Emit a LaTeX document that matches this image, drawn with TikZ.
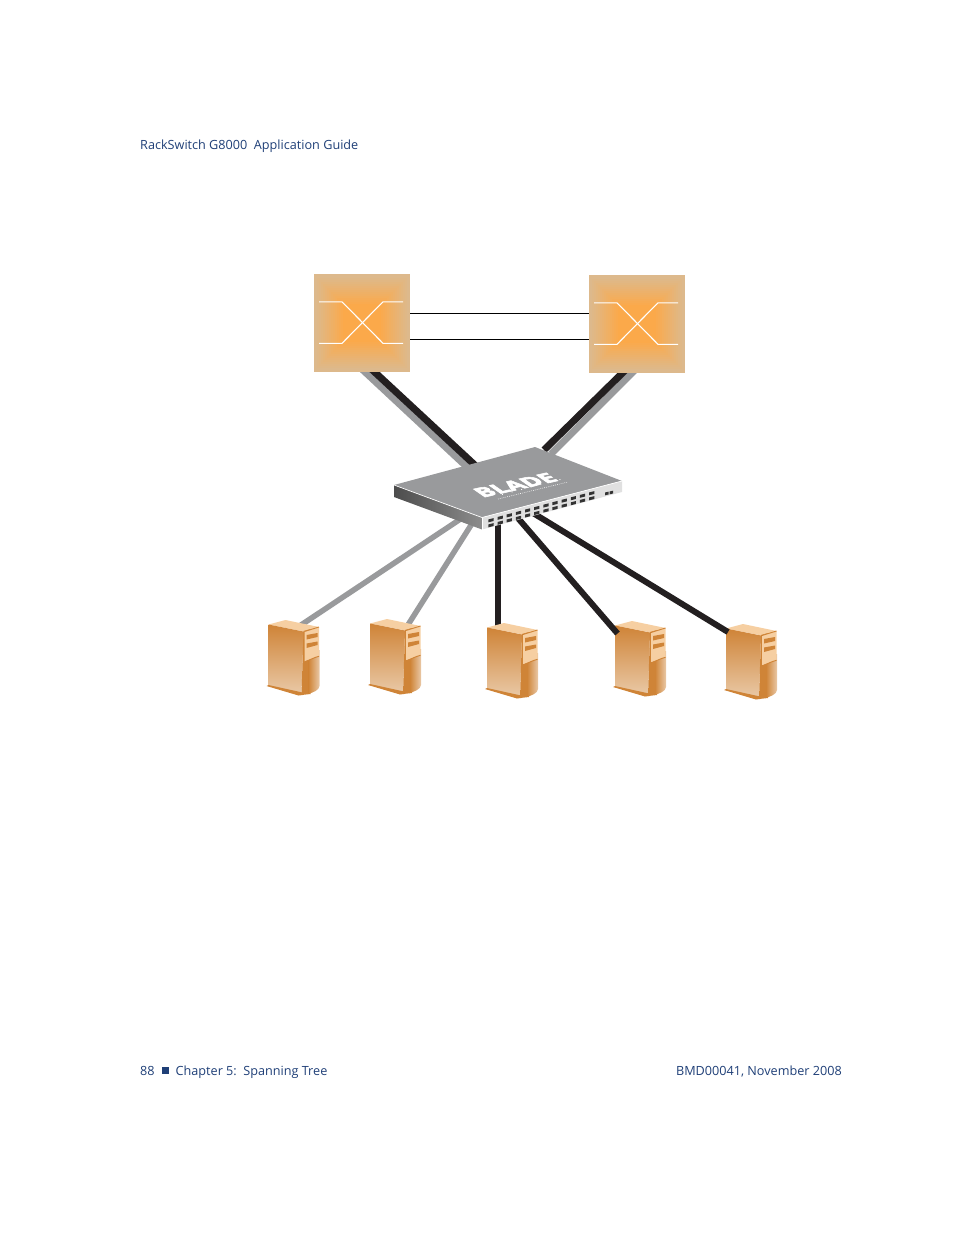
\documentclass[tikz,border=0pt]{standalone}
\usepackage{fontspec}
\setmainfont{Open Sans}
\newfontfamily\logofont[FakeBold=4]{Open Sans}
\usetikzlibrary{calc}
\definecolor{hdr}{HTML}{1F3F77}
\definecolor{swout}{HTML}{DDB98C}
\definecolor{swin}{HTML}{FBA94A}
\definecolor{graylink}{HTML}{999A9C}
\definecolor{blacklink}{HTML}{231F20}
\definecolor{srvdark}{HTML}{CF8437}
\definecolor{srvmid}{HTML}{CD8F62}
\definecolor{srvlight}{HTML}{E9C8A6}
\definecolor{srvpanel}{HTML}{F6CFA2}
\pgfdeclarelayer{bg}
\pgfsetlayers{bg,main}
\tikzset{
  x=1pt,y=-1pt,
  pagetext/.style={text=hdr,font=\fontsize{12.65}{15}\selectfont,inner sep=0pt,anchor=base west},
  glink/.style={draw=graylink,line width=#1},
  blink/.style={draw=blacklink,line width=#1},
  plainline/.style={draw=black,line width=0.8pt},
  xline/.style={draw=white,line width=1.1pt},
  pics/server/.style={code={
    \fill[srvpanel] (0,4.5) -- (17,0) -- (50.5,7) -- (36,11.5) -- cycle;
    \shade[top color=srvdark,middle color=srvmid,bottom color=srvlight] (0,4.5) -- (35,11.5) -- (33,73.5) -- (0,66) -- cycle;
    \fill[srvdark] (35,11) -- (42,9) -- (42,74) -- (33,75) -- cycle;
    \shade[left color=srvdark,right color=srvlight] (40,30) -- (51,30) -- (51,66) .. controls (51,70) and (44,73) .. (40,73.5) -- cycle;
    \fill[srvpanel] (36,11.5) -- (50.5,7) -- (50.5,36) .. controls (46,37) and (43,39) .. (36,41.5) -- cycle;
    \draw[srvdark,line width=0.9pt] (36,11.5) -- (50.5,7);
    \draw[srvdark,line width=0.9pt] (36,41.8) .. controls (43,39.3) and (46,37.3) .. (50.5,36.3);
    \fill[srvdark] (38,15) -- (49,13) -- (49,17) -- (38,19.5) -- cycle;
    \fill[srvdark] (38,23.5) -- (49,21.5) -- (49,25) -- (38,28) -- cycle;
    \fill[srvdark] (-2,66) -- (0,65) -- (34,72.5) -- (34,75) -- (30,75.5) -- cycle;
  }}
}
\begin{document}
\begin{tikzpicture}
\useasboundingbox (0,0) rectangle (954,1235);
% page text
\node[pagetext] (head) at (140,149) {RackSwitch G8000\ \ Application Guide};
\node[pagetext] (pnum) at (140,1075) {88};
\node[fill=hdr,minimum size=7pt,inner sep=0pt] (bul) at (165,1070.3) {};
\node[pagetext] (chap) at (175.5,1075) {Chapter 5:\ \ Spanning Tree};
\node[pagetext,anchor=base east] (doc) at (842,1075) {BMD00041, November 2008};
% upper switches
\foreach \n/\cx/\cy in {swa/362/322.8,swb/637/323.8}{
  \node[fill=swout,minimum width=96.5pt,minimum height=97.5pt,inner sep=0pt] (\n) at (\cx,\cy) {};
  \foreach \i in {1,...,14}{
    \pgfmathsetmacro{\mix}{\i*100/14}
    \pgfmathsetmacro{\hw}{47-\i*2}
    \fill[swin!\mix!swout] (\cx-\hw,\cy-\hw) rectangle (\cx+\hw,\cy+\hw);
  }
  \draw[xline] (\cx-43,\cy-21) -- (\cx-20,\cy-21) -- (\cx+21,\cy+20.5) -- (\cx+41,\cy+20.5);
  \draw[xline] (\cx-43,\cy+20.5) -- (\cx-20,\cy+20.5) -- (\cx+21,\cy-21) -- (\cx+41,\cy-21);
}
% central switch
\fill[graylink] (394,485) -- (535,447) -- (622,481) -- (482,517.5) -- cycle;
\shade[left color=black!70,right color=black!45] (394,485) -- (482,517.5) -- (482,529.5) -- (394,497) -- cycle;
\fill[black!12] (482,517.5) -- (622,481) -- (622,492) -- (482,529.5) -- cycle;
\draw[white,line width=0.7pt] (394,485) -- (482,517.5) -- (622,481);
\draw[white,line width=0.5pt] (482,517.5) -- (482,529.5);
\foreach \k in {0,...,11}{
  \pgfmathsetmacro{\px}{491+\k*9.15}
  \pgfmathsetmacro{\py}{520-\k*2.45}
  \fill[black!80] (\px-2.6,\py-0.6) -- (\px+2.6,\py-1.9) -- (\px+2.6,\py+1.0) -- (\px-2.6,\py+2.3) -- cycle;
  \fill[black!80] (\px-2.6,\py+4.4) -- (\px+2.6,\py+3.1) -- (\px+2.6,\py+6) -- (\px-2.6,\py+7.3) -- cycle;
}
\fill[black!80] (605,492.5) -- (608.5,491.7) -- (608.5,494.5) -- (605,495.3) -- cycle;
\fill[black!80] (609.5,491.5) -- (613,490.7) -- (613,493.5) -- (609.5,494.3) -- cycle;
\node[text=white,inner sep=0pt,font=\logofont\bfseries\fontsize{17}{17}\selectfont,
      transform shape,cm={1.39,0.31,-0.95,0.66,(515.3,485)}] (logo) at (0,0) {BLADE};
\draw[white,line width=0.6pt,dash pattern=on 0.7pt off 1.2pt] (498,499) -- (568,482);
\draw[white,line width=0.9pt,dash pattern=on 0.9pt off 9pt] (502,494.5) -- (566,478);
% attachment points on the central switch
\coordinate (ca) at (478,468);
\coordinate (cb) at (544,450);
\coordinate (cc) at (467,467);
\coordinate (cd) at (551,454);
\coordinate (d1) at (462,518);
\coordinate (d2) at (473,522);
\coordinate (d3) at (498,522);
\coordinate (d4) at (517,517);
\coordinate (d5) at (533,513);
\coordinate (e1) at (298,627);
\coordinate (e2) at (406,628);
\coordinate (e3) at (498,626);
\coordinate (e4) at (617.5,633.5);
\coordinate (e5) at (728,632);
\coordinate (swaL) at (361,368.2);
\coordinate (swaR) at (370.5,368.2);
\coordinate (swbL) at (626.5,369);
\coordinate (swbR) at (636,369);
\begin{pgfonlayer}{bg}
  \draw[plainline] (swa.east |- 0,313) -- (swb.west |- 0,313);
  \draw[plainline] (swa.east |- 0,339.5) -- (swb.west |- 0,339.5);
  \draw[glink=7pt] (swaL) -- (cc);
  \draw[blink=7pt] (swaR) -- (ca);
  \draw[glink=7pt] (swbR) -- (cd);
  \draw[blink=7pt] (swbL) -- (cb);
  \draw[glink=5.5pt] (d1) -- (e1);
  \draw[glink=5.5pt] (d2) -- (e2);
  \draw[blink=6pt] (d3) -- (e3);
  % servers
  \pic (s1) at (268.5,620) {server};
  \pic (s2) at (370,619) {server};
  \pic (s3) at (487,623) {server};
  \pic (s4) at (615,621) {server};
  \pic (s5) at (726,624) {server};
  \draw[blink=6pt] (d4) -- (e4);
  \draw[blink=6pt] (d5) -- (e5);
\end{pgfonlayer}
\end{tikzpicture}
\end{document}
